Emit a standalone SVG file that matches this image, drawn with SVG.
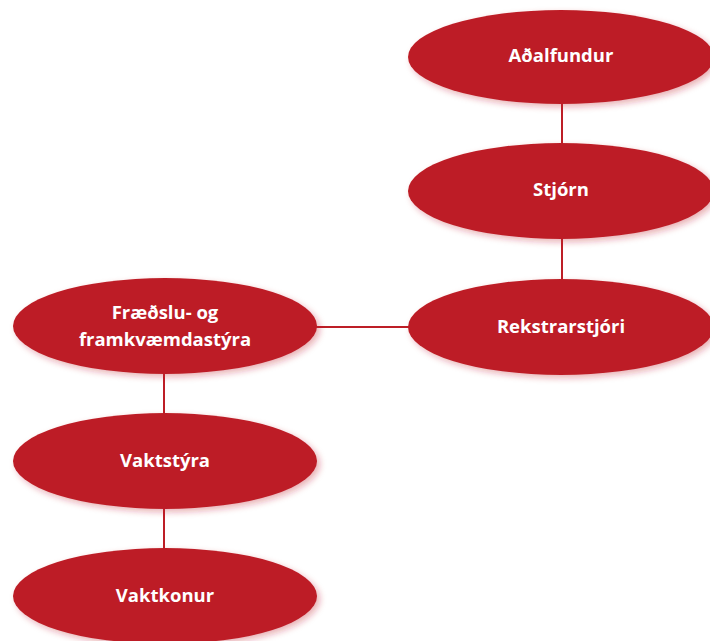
<svg xmlns="http://www.w3.org/2000/svg" width="710" height="641" viewBox="0 0 710 641">
<defs>
<filter id="sh" x="-10%" y="-20%" width="125%" height="150%">
<feGaussianBlur in="SourceAlpha" stdDeviation="3"/>
<feOffset dx="3" dy="3" result="b"/>
<feFlood flood-color="#be1e2d" flood-opacity="0.35"/>
<feComposite in2="b" operator="in"/>
<feMerge><feMergeNode/><feMergeNode in="SourceGraphic"/></feMerge>
</filter>
</defs>
<style>
.n ellipse{fill:#bd1e26;filter:url(#sh)}
.n text{fill:#fff;font-family:"Open Sans","Noto Sans","DejaVu Sans",sans-serif;font-weight:bold;font-size:18.5px;text-anchor:middle}
.c line{stroke:#bd1e26;stroke-width:2}
</style>
<rect width="710" height="641" fill="#fff"/>
<g id="connectors" class="c">
<line x1="562" y1="100" x2="562" y2="150"/>
<line x1="562" y1="235" x2="562" y2="285"/>
<line x1="310" y1="327" x2="415" y2="327"/>
<line x1="164" y1="370" x2="164" y2="420"/>
<line x1="164" y1="505" x2="164" y2="555"/>
</g>
<g id="adalfundur" class="n"><ellipse cx="561" cy="57" rx="153" ry="47"/><text x="561" y="62">Aðalfundur</text></g>
<g id="stjorn" class="n"><ellipse cx="561" cy="191" rx="153" ry="48"/><text x="561" y="196">Stjórn</text></g>
<g id="rekstrarstjori" class="n"><ellipse cx="561" cy="327" rx="153" ry="48"/><text x="561" y="333">Rekstrarstjóri</text></g>
<g id="fraedslu" class="n"><ellipse cx="165" cy="326" rx="152" ry="48"/><text x="165" y="319">Fræðslu- og</text><text x="165" y="346">framkvæmdastýra</text></g>
<g id="vaktstyra" class="n"><ellipse cx="165" cy="461" rx="152" ry="48"/><text x="165" y="467">Vaktstýra</text></g>
<g id="vaktkonur" class="n"><ellipse cx="165" cy="596" rx="152" ry="48"/><text x="165" y="602">Vaktkonur</text></g>
</svg>
